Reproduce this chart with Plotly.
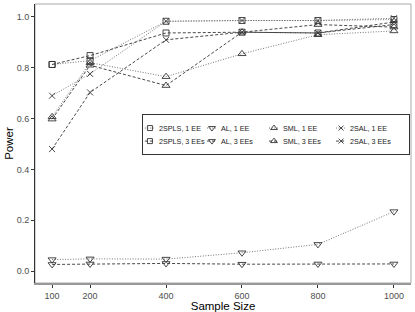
import plotly.graph_objects as go

sample_size = [100, 200, 400, 600, 800, 1000]

spls_1ee = [0.813, 0.828, 0.983, 0.986, 0.986, 0.990]
spls_3ee = [0.813, 0.848, 0.937, 0.940, 0.937, 0.970]
al_1ee = [0.045, 0.048, 0.047, 0.072, 0.105, 0.234]
al_3ee = [0.026, 0.028, 0.030, 0.027, 0.028, 0.028]
sml_1ee = [0.607, 0.820, 0.765, 0.855, 0.930, 0.945]
sml_3ee = [0.598, 0.810, 0.730, 0.940, 0.970, 0.960]
sal_1ee = [0.690, 0.776, 0.983, 0.986, 0.986, 0.995]
sal_3ee = [0.480, 0.703, 0.910, 0.940, 0.937, 0.980]

x_ticks = [100, 200, 400, 600, 800, 1000]
y_ticks = [0.0, 0.2, 0.4, 0.6, 0.8, 1.0]
y_tick_text = ["0.0", "0.2", "0.4", "0.6", "0.8", "1.0"]

# (label, values, marker symbol, line style, legend row, legend column)
series = [
    ("2SPLS, 1 EE", spls_1ee, "square-open", "dot", 0, 0),
    ("AL, 1 EE", al_1ee, "triangle-down-open", "dot", 0, 1),
    ("SML, 1 EE", sml_1ee, "triangle-up-open", "dot", 0, 2),
    ("2SAL, 1 EE", sal_1ee, "x-thin-open", "dot", 0, 3),
    ("2SPLS, 3 EEs", spls_3ee, "square-open", "dash", 1, 0),
    ("AL, 3 EEs", al_3ee, "triangle-down-open", "dash", 1, 1),
    ("SML, 3 EEs", sml_3ee, "triangle-up-open", "dash", 1, 2),
    ("2SAL, 3 EEs", sal_3ee, "x-thin-open", "dash", 1, 3),
]

DASHES = {"dot": "1px,1.6px", "dash": "3px,2px"}
LINECOL = {"dot": "#666666", "dash": "#333333"}
MSIZE = {"square-open": 6, "triangle-down-open": 7, "triangle-up-open": 7, "x-thin-open": 6}

# legend key layout (in legend-box pixel units)
leg_col_x = [7, 69, 131, 198]
leg_row_y = [26, 13]
key_half = 5
text_gap = 7

fig = go.Figure()
for name, vals, sym, dash, row, col in series:
    line = dict(color=LINECOL[dash], width=0.9, dash=DASHES[dash])
    marker = dict(symbol=sym, size=MSIZE[sym], color="#333333",
                  line=dict(width=0.9, color="#333333"))
    fig.add_trace(go.Scatter(
        x=sample_size, y=vals, name=name, mode="lines+markers",
        line=line, marker=marker, showlegend=False,
    ))
    cx, cy = leg_col_x[col], leg_row_y[row]
    fig.add_trace(go.Scatter(
        x=[cx - key_half, cx, cx + key_half], y=[cy, cy, cy], mode="lines",
        line=line, xaxis="x2", yaxis="y2", showlegend=False, hoverinfo="skip",
    ))
    fig.add_trace(go.Scatter(
        x=[cx], y=[cy], mode="markers", marker=dict(marker, size=MSIZE[sym] - 1),
        xaxis="x2", yaxis="y2", showlegend=False, hoverinfo="skip",
    ))
    fig.add_annotation(
        x=cx + text_gap, y=cy, xref="x2", yref="y2", text=name, showarrow=False,
        xanchor="left", yanchor="middle",
        font=dict(family="Liberation Sans", size=7.2, color="#222222"),
    )

tickfont = dict(size=9, color="#4d4d4d", family="Liberation Sans")

fig.update_layout(
    width=415, height=312,
    margin=dict(l=35, r=4, t=4, b=29),
    paper_bgcolor="white", plot_bgcolor="white",
    font=dict(family="Liberation Sans"),
    xaxis=dict(
        range=[55, 1045], tickvals=x_ticks, ticktext=[str(v) for v in x_ticks],
        showgrid=False, zeroline=False, showline=True, linecolor="#999999", linewidth=1.5,
        ticks="outside", ticklen=3, tickcolor="#333333", tickwidth=0.8,
        tickfont=tickfont, automargin=False, domain=[0, 1],
        title=dict(text="Sample Size", font=dict(size=11.5, color="black"), standoff=0),
    ),
    yaxis=dict(
        range=[-0.047, 1.051], tickvals=y_ticks, ticktext=y_tick_text,
        showgrid=False, zeroline=False, showline=True, linecolor="#333333", linewidth=1,
        ticks="outside", ticklen=3, tickcolor="#333333", tickwidth=0.8,
        tickfont=tickfont, automargin=False, domain=[0, 1],
        title=dict(text="Power", font=dict(size=11.5, color="black"), standoff=0),
    ),
    xaxis2=dict(
        domain=[0.287, 0.995], anchor="y2", range=[0, 266],
        showgrid=False, zeroline=False, showticklabels=False, ticks="",
        showline=True, mirror=True, linecolor="#333333", linewidth=1, fixedrange=True,
    ),
    yaxis2=dict(
        domain=[0.462, 0.602], anchor="x2", range=[0, 39],
        showgrid=False, zeroline=False, showticklabels=False, ticks="",
        showline=True, mirror=True, linecolor="#333333", linewidth=1, fixedrange=True,
    ),
    shapes=[
        dict(type="rect", xref="paper", yref="paper", x0=0, x1=1, y0=0, y1=1,
             line=dict(color="#aaaaaa", width=1), fillcolor="rgba(0,0,0,0)", layer="below"),
    ],
)

fig.write_html(
    "out.html",
    config={"displayModeBar": False},
    post_script="document.body.style.margin='0';document.body.style.padding='0';",
)
